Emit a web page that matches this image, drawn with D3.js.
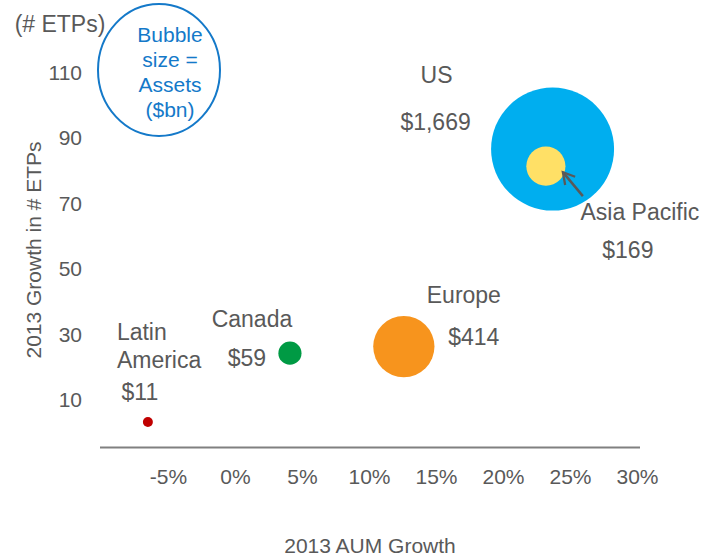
<!DOCTYPE html>
<html>
<head>
<meta charset="utf-8">
<script src="https://cdn.jsdelivr.net/npm/d3@7/dist/d3.min.js"></script>
<style>
  body { margin: 0; background: #fff; }
  svg text { font-family: "Liberation Sans", Arial, sans-serif; fill: #595959; }
</style>
</head>
<body>
<svg width="719" height="560"></svg>
<script>
// data
var regions  = ["US", "Asia Pacific", "Europe", "Canada", "Latin America"];
var aumGrowth = [23.7, 23.2, 12.6, 4.1, -6.5];   // % 2013 AUM growth
var etpGrowth = [86.6, 81.4, 26.3, 24.3, 3.3];   // 2013 growth in # ETPs
var assets    = [1669, 169, 414, 59, 11];        // $bn
var assetLabels = ["$1,669", "$169", "$414", "$59", "$11"];
var xTicks = [-5, 0, 5, 10, 15, 20, 25, 30];
var yTicks = [10, 30, 50, 70, 90, 110];

var colors = ["#00aeef", "#ffe066", "#f7941d", "#009a44", "#c00000"];

var svg = d3.select("svg");

// scales
var xScale = d3.scaleLinear().domain([-10, 30]).range([101, 637]);
var yScale = d3.scaleLinear().domain([-4.5, 125.5]).range([447.5, 21.7]);
var rScale = d3.scaleSqrt().domain([0, 1669]).range([0, 61.5]);

// x axis
var xAxis = d3.axisBottom(xScale)
  .tickValues(xTicks)
  .tickSize(0)
  .tickFormat(function(d) { return d + "%"; });

var gX = svg.append("g")
  .attr("transform", "translate(0," + yScale(-4.5) + ")")
  .call(xAxis);
gX.select(".domain").attr("stroke", "#808080").attr("stroke-width", 2)
  .attr("d", "M" + (xScale(-10) - 1) + ",0H" + (xScale(30) + 3));
gX.selectAll("text")
  .attr("dy", null).attr("y", 36)
  .style("font-size", "21px").attr("fill", "#595959");

// y axis (labels only)
var yAxis = d3.axisLeft(yScale).tickValues(yTicks).tickSize(0).tickPadding(8);
var gY = svg.append("g").attr("transform", "translate(90,0)").call(yAxis);
gY.select(".domain").remove();
gY.selectAll("text").style("font-size", "21px").attr("fill", "#595959");

// axis titles
svg.append("text")
  .attr("x", 370).attr("y", 553)
  .attr("text-anchor", "middle")
  .style("font-size", "21px")
  .text("2013 AUM Growth");

svg.append("text")
  .attr("transform", "translate(41,250) rotate(-90)")
  .attr("text-anchor", "middle")
  .style("font-size", "21px")
  .text("2013 Growth in # ETPs");

svg.append("text")
  .attr("x", 60).attr("y", 32)
  .attr("text-anchor", "middle")
  .style("font-size", "23px")
  .text("(# ETPs)");

// legend bubble
svg.append("ellipse")
  .attr("cx", 159).attr("cy", 70).attr("rx", 61).attr("ry", 66)
  .attr("fill", "none").attr("stroke", "#1479c9").attr("stroke-width", 2);

svg.append("text")
  .attr("text-anchor", "middle")
  .style("font-size", "21px").style("fill", "#1479c9")
  .selectAll("tspan")
  .data(["Bubble", "size =", "Assets", "($bn)"])
  .enter().append("tspan")
    .attr("x", 170)
    .attr("y", function(d, i) { return 42 + i * 25; })
    .text(function(d) { return d; });

// bubbles
var points = regions.map(function(r, i) {
  return { name: r, x: aumGrowth[i], y: etpGrowth[i], a: assets[i], label: assetLabels[i], color: colors[i] };
});

svg.append("g").selectAll("circle")
  .data(points)
  .enter().append("circle")
    .attr("cx", function(d) { return xScale(d.x); })
    .attr("cy", function(d) { return yScale(d.y); })
    .attr("r", function(d) { return rScale(d.a); })
    .attr("fill", function(d) { return d.color; });

// labels, offsets from bubble centre
var offsets = {
  "US":            { name: [-116, -66], value: [-117, -19], anchor: "middle" },
  "Asia Pacific":  { name: [94, 54],    value: [82, 92],    anchor: "middle" },
  "Europe":        { name: [60, -44],   value: [70, -2],    anchor: "middle" },
  "Canada":        { name: [-38, -26],  value: [-43, 13],   anchor: "middle" },
  "Latin America": { name: [-31, -82],  value: [-8, -22],   anchor: "start" }
};

points.forEach(function(d) {
  var cx = xScale(d.x), cy = yScale(d.y), o = offsets[d.name];
  var lines = d.name === "Latin America" ? ["Latin", "America"] : [d.name];
  var t = svg.append("text")
    .attr("text-anchor", o.anchor)
    .style("font-size", "23px");
  lines.forEach(function(l, i) {
    t.append("tspan")
      .attr("x", cx + o.name[0])
      .attr("y", cy + o.name[1] + i * 28)
      .text(l);
  });
  svg.append("text")
    .attr("x", cx + o.value[0])
    .attr("y", cy + o.value[1])
    .attr("text-anchor", "middle")
    .style("font-size", "23px")
    .text(d.label);
});

// arrow pointing to Asia Pacific
var ap = points[1];
var ax = xScale(ap.x), ay = yScale(ap.y);
svg.append("defs").append("marker")
  .attr("id", "arrow")
  .attr("viewBox", "0 0 10 10")
  .attr("refX", 8).attr("refY", 5)
  .attr("markerWidth", 6.5).attr("markerHeight", 6.5)
  .attr("orient", "auto")
  .append("path")
    .attr("d", "M1,1L8,5L1,9")
    .attr("fill", "none").attr("stroke", "#595959").attr("stroke-width", 1.4);

svg.append("line")
  .attr("x1", ax + 37).attr("y1", ay + 30)
  .attr("x2", ax + 17).attr("y2", ay + 6)
  .attr("stroke", "#595959").attr("stroke-width", 2.5)
  .attr("marker-end", "url(#arrow)");
</script>
</body>
</html>
